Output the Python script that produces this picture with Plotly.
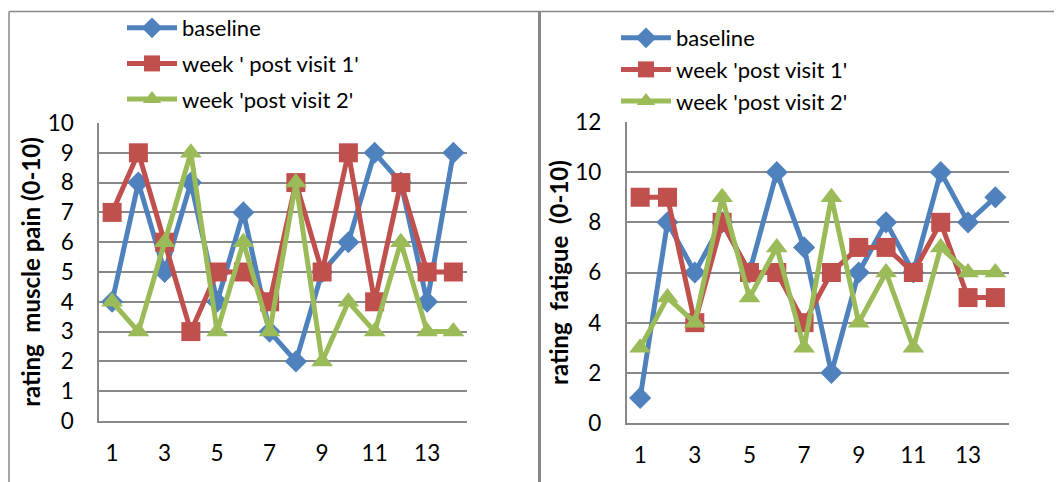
import plotly.graph_objects as go

visits = list(range(1, 15))
tick_x = [1, 3, 5, 7, 9, 11, 13]

pain_baseline = [4, 8, 5, 8, 4, 7, 3, 2, 5, 6, 9, 8, 4, 9]
pain_week1 = [7, 9, 6, 3, 5, 5, 4, 8, 5, 9, 4, 8, 5, 5]
pain_week2 = [4, 3, 6, 9, 3, 6, 3, 8, 2, 4, 3, 6, 3, 3]

fat_baseline = [1, 8, 6, 8, 6, 10, 7, 2, 6, 8, 6, 10, 8, 9]
fat_week1 = [9, 9, 4, 8, 6, 6, 4, 6, 7, 7, 6, 8, 5, 5]
fat_week2 = [3, 5, 4, 9, 5, 7, 3, 9, 4, 6, 3, 7, 6, 6]

names_left = ["baseline", "week ' post visit 1'", "week 'post visit 2'"]
names_right = ["baseline", "week 'post visit 1'", "week 'post visit 2'"]

BLUE = "#4F81BD"
RED = "#C0504D"
GREEN = "#9BBB59"
GRID = "#888888"
FONT = "Lato"

styles = [
    (BLUE, "diamond", 17),
    (RED, "square", 19),
    (GREEN, "triangle-up", 19),
]

fig = go.Figure()

for (vals, name, (c, sym, sz)) in zip([pain_baseline, pain_week1, pain_week2], names_left, styles):
    fig.add_trace(go.Scatter(
        x=visits, y=vals, name=name, mode="lines+markers",
        line=dict(color=c, width=5),
        marker=dict(symbol=sym, size=sz, color=c),
        xaxis="x", yaxis="y", legend="legend", legendgroup="L" + name,
        cliponaxis=False,
    ))

for (vals, name, (c, sym, sz)) in zip([fat_baseline, fat_week1, fat_week2], names_right, styles):
    fig.add_trace(go.Scatter(
        x=visits, y=vals, name=name, mode="lines+markers",
        line=dict(color=c, width=5),
        marker=dict(symbol=sym, size=sz, color=c),
        xaxis="x2", yaxis="y2", legend="legend2", legendgroup="R" + name,
        cliponaxis=False,
    ))

W, H = 1062, 482
OFF = 8  # page body margin offset


def px_x(p):
    return (p - OFF) / W


def px_y(p):
    return (H - (p - OFF)) / H


xcommon = dict(range=[0.5, 14.5], tickvals=tick_x, showgrid=False, zeroline=False,
               showline=True, linecolor=GRID, linewidth=1.5, ticks="", automargin=False,
               tickfont=dict(family=FONT, size=22.5, color="black"), ticklabelstandoff=11)
ycommon = dict(showgrid=True, gridcolor=GRID, gridwidth=1.5, zeroline=False,
               showline=True, linecolor=GRID, linewidth=1.5, ticks="", automargin=False,
               tickfont=dict(family=FONT, size=22.5, color="black"), ticklabelstandoff=19)

fig.update_layout(
    width=W, height=H,
    margin=dict(l=0, r=0, t=0, b=0, autoexpand=False),
    paper_bgcolor="white", plot_bgcolor="white",
    font=dict(family=FONT, size=22, color="black"),
    xaxis=dict(domain=[px_x(99), px_x(466.5)], anchor="y", **xcommon),
    yaxis=dict(domain=[px_y(421), px_y(123)], anchor="x", range=[0, 10], dtick=1,
               title=dict(text="rating\u00a0 muscle pain (0-10)", standoff=0,
                          font=dict(family=FONT, size=24, color="black", weight="bold")),
               **ycommon),
    xaxis2=dict(domain=[px_x(626.5), px_x(1009)], anchor="y2", **xcommon),
    yaxis2=dict(domain=[px_y(423), px_y(122)], anchor="x2", range=[0, 12], dtick=2,
                title=dict(text="rating\u00a0 fatigue\u00a0 (0-10)", standoff=0,
                           font=dict(family=FONT, size=24, color="black", weight="bold")),
                **ycommon),
    legend=dict(x=px_x(122), y=px_y(7), xanchor="left", yanchor="top",
                bgcolor="rgba(0,0,0,0)", tracegroupgap=4, traceorder="grouped",
                font=dict(family=FONT, size=22, color="black"), itemwidth=50),
    legend2=dict(x=px_x(616), y=px_y(17), xanchor="left", yanchor="top",
                 bgcolor="rgba(0,0,0,0)", tracegroupgap=0, traceorder="grouped",
                 font=dict(family=FONT, size=22, color="black"), itemwidth=50),
    showlegend=True,
    shapes=[
        dict(type="line", xref="paper", yref="paper", x0=px_x(9), x1=1, y0=px_y(11.5), y1=px_y(11.5),
             line=dict(color=GRID, width=1.5)),
        dict(type="line", xref="paper", yref="paper", x0=px_x(9), x1=px_x(9), y0=0, y1=px_y(11.5),
             line=dict(color=GRID, width=1.5)),
        dict(type="line", xref="paper", yref="paper", x0=px_x(539.5), x1=px_x(539.5), y0=0, y1=px_y(11.5),
             line=dict(color=GRID, width=3)),
    ],
)

fig.write_html("out.html")
